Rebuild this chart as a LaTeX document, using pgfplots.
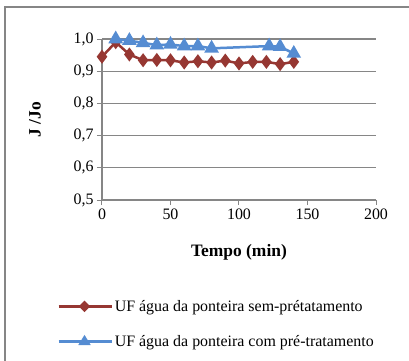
\documentclass[border=0pt]{standalone}
\usepackage{pgfplots}
\pgfplotsset{compat=1.18}
\usepackage{fontspec}
\setmainfont{Liberation Serif}
\usetikzlibrary{plotmarks}

\definecolor{serred}{RGB}{150,55,50}
\definecolor{serblue}{RGB}{85,140,210}
\definecolor{gridgray}{RGB}{134,134,134}

% J/Jo without pre-treatment
\pgfplotstableread{
t    j
0    0.945
10   0.990
20   0.952
30   0.934
40   0.935
50   0.934
60   0.927
70   0.931
80   0.927
90   0.933
100  0.924
110  0.929
120  0.929
130  0.922
140  0.929
}\semtrat

% J/Jo with pre-treatment
\pgfplotstableread{
t    j
10   1.000
20   0.995
30   0.988
40   0.981
50   0.983
60   0.978
70   0.978
80   0.971
122  0.978
130  0.976
140  0.955
}\comtrat

\begin{document}
\begin{tikzpicture}[x=1bp,y=1bp]
\useasboundingbox (-102,-161) rectangle (307,200);
% chart frame (left and top edges)
\draw[gridgray, line width=1.5bp] (-97,-161) -- (-97,193) -- (307,193);
\begin{axis}[
  at={(0,0)}, anchor=south west,
  scale only axis, width=274bp, height=161bp,
  xmin=0, xmax=200, ymin=0.5, ymax=1.0,
  xtick={0,50,100,150,200},
  ytick={0.5,0.6,0.7,0.8,0.9,1.0},
  yticklabel style={/pgf/number format/.cd, fixed, fixed zerofill, precision=1, use comma},
  /pgf/number format/assume math mode=true,
  ticklabel style={font=\fontsize{16}{19}\selectfont},
  axis x line*=bottom, axis y line*=left,
  axis line style={gridgray, line width=1.2bp},
  x axis line style={-}, y axis line style={-},
  tick style={gridgray, line width=1bp},
  tick align=outside, major tick length=5bp,
  ymajorgrids, major grid style={gridgray, line width=1.2bp},
  xlabel={\textbf{Tempo (min)}},
  ylabel={\textbf{J /Jo}},
  label style={font=\fontsize{17.5}{20}\selectfont},
  xlabel style={at={(axis description cs:0.5,-0.323)}, anchor=center},
  ylabel style={at={(axis description cs:-0.2445,0.5)}, anchor=center},
  clip=false,
  legend style={at={(axis description cs:-0.1642,-0.77)}, anchor=west,
    draw=none, fill=none, inner sep=0pt,
    font=\fontsize{16}{19}\selectfont,
    row sep=18bp,
    nodes={inner sep=2bp}},
  legend cell align=left,
]
\addplot[serred, line width=2.5bp, mark=diamond*, mark size=5bp,
  mark options={solid, fill=serred}, forget plot] table[x=t, y=j] {\semtrat};
\addlegendimage{serred, line width=2.5bp, legend image code/.code={
    \draw[serred, line width=2.6bp] (0bp,0.3bp) -- (53bp,0.3bp);
    \fill[serred] (26bp,4.3bp) -- (30bp,0.3bp) -- (26bp,-3.7bp) -- (22bp,0.3bp) -- cycle;}}
\addlegendentry{UF água da ponteira sem-prétatamento}
\addplot[serblue, line width=2.5bp, mark=triangle*, mark size=6bp,
  mark options={solid, fill=serblue}, forget plot] table[x=t, y=j] {\comtrat};
\addlegendimage{serblue, line width=2.5bp, legend image code/.code={
    \draw[serblue, line width=2.6bp] (0bp,0bp) -- (53bp,0bp);
    \fill[serblue] (26bp,4bp) -- (30bp,-2.5bp) -- (22bp,-2.5bp) -- cycle;}}
\addlegendentry{UF água da ponteira com pré-tratamento}
\end{axis}
\end{tikzpicture}
\end{document}
